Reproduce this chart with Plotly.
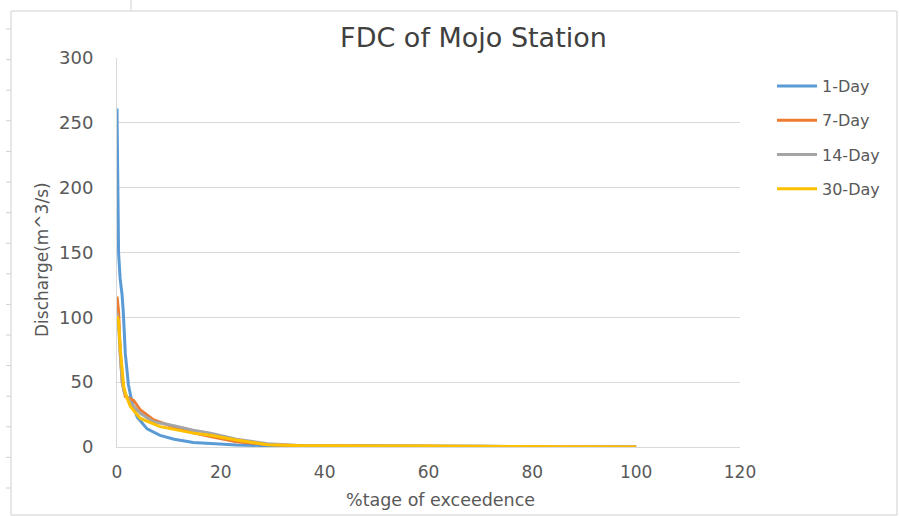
import plotly.graph_objects as go

# Data (% exceedance, discharge m^3/s)
x_1day = [0, 0.15, 0.3, 0.6, 0.96, 1.2, 1.6, 2.2, 2.9, 3.9, 5.8, 8.3, 11, 14.7, 18, 23, 30, 40, 50, 60, 70, 80, 90, 100]
y_1day = [261, 200, 150, 130, 118, 105, 72, 48, 34, 23, 14, 9, 6, 3.5, 2.5, 1.5, 1.0, 0.7, 0.6, 0.6, 0.5, 0.5, 0.3, 0]

x_7day = [0, 0.3, 0.6, 1.0, 1.6, 2.2, 3.2, 4.5, 7, 11.6, 14.7, 18, 23, 29, 35, 40, 50, 60, 70, 80, 90, 100]
y_7day = [116, 105, 75, 50, 39, 38, 36, 28.5, 21, 14.4, 11, 8, 4, 2, 1.0, 0.8, 0.7, 0.7, 0.6, 0.5, 0.3, 0]

x_14day = [0, 0.3, 0.6, 1.0, 1.4, 2.0, 2.8, 4.5, 7, 10.3, 14.7, 18, 23, 29, 35, 40, 50, 60, 70, 80, 90, 100]
y_14day = [103, 95, 72, 50, 42, 38, 33, 26, 19.5, 17, 13, 10.7, 6, 2.5, 1.2, 0.9, 0.8, 0.7, 0.6, 0.5, 0.3, 0]

x_30day = [0, 0.3, 0.64, 1.0, 1.3, 1.8, 2.6, 4.5, 8.3, 14.7, 18, 23, 29, 35, 40, 50, 60, 70, 80, 90, 100]
y_30day = [101, 97, 75, 58, 46.5, 39, 31, 22, 15.7, 10.7, 9, 5.4, 1.8, 1.1, 0.9, 0.8, 0.7, 0.6, 0.5, 0.3, 0]

series = [
    ("1-Day", x_1day, y_1day, "#5b9bd5"),
    ("7-Day", x_7day, y_7day, "#ed7d31"),
    ("14-Day", x_14day, y_14day, "#a5a5a5"),
    ("30-Day", x_30day, y_30day, "#ffc000"),
]

FONT = "DejaVu Sans"
W, H = 899, 516
ML, MR, MT, MB = 117, 159, 58, 69
PW, PH = W - ML - MR, H - MT - MB


def px_to_paper_x(px):
    return (px - ML) / PW


def px_to_paper_y(py):
    return (H - MB - py) / PH


fig = go.Figure()
for i, (name, xs, ys, col) in enumerate(series):
    fig.add_trace(go.Scatter(x=xs, y=ys, mode="lines", name=name,
                             line=dict(color=col, width=3),
                             legendgroup=str(i)))

shapes = [dict(type="rect", xref="paper", yref="paper",
               x0=px_to_paper_x(11), x1=px_to_paper_x(897),
               y0=px_to_paper_y(515), y1=px_to_paper_y(11),
               line=dict(color="#d0d0d0", width=1), fillcolor="rgba(0,0,0,0)",
               layer="below")]
# faint spreadsheet row marks on the left edge
row_start, row_step = 29, 30.6
for k in range(16):
    py = row_start + k * row_step
    shapes.append(dict(type="line", xref="paper", yref="paper",
                       x0=px_to_paper_x(6), x1=px_to_paper_x(11),
                       y0=px_to_paper_y(py), y1=px_to_paper_y(py),
                       line=dict(color="#d0d0d0", width=1)))
shapes.append(dict(type="line", xref="paper", yref="paper",
                   x0=px_to_paper_x(131), x1=px_to_paper_x(131),
                   y0=px_to_paper_y(0), y1=px_to_paper_y(10),
                   line=dict(color="#d0d0d0", width=1)))

fig.update_layout(
    width=W, height=H,
    paper_bgcolor="white", plot_bgcolor="white",
    margin=dict(l=ML, r=MR, t=MT, b=MB),
    font=dict(family=FONT, color="#595959", size=17),
    title=dict(text="FDC of Mojo Station", x=473.5 / W, xanchor="center",
               y=1 - 38 / H, yanchor="middle",
               font=dict(family=FONT, size=27, color="#404040")),
    showlegend=True,
    legend=dict(x=px_to_paper_x(772), xanchor="left",
                y=px_to_paper_y(69), yanchor="top",
                font=dict(family=FONT, size=16, color="#595959"),
                tracegroupgap=10.5, itemwidth=40,
                bgcolor="rgba(0,0,0,0)"),
    xaxis=dict(range=[0, 120], tickvals=[0, 20, 40, 60, 80, 100, 120],
               showgrid=False, zeroline=False, showline=True,
               linecolor="#d9d9d9", linewidth=1, ticks="",
               ticklabelstandoff=10,
               tickfont=dict(family=FONT, size=17, color="#595959")),
    yaxis=dict(range=[0, 300], tickvals=[0, 50, 100, 150, 200, 250, 300],
               showgrid=True, gridcolor="#d9d9d9", gridwidth=1,
               zeroline=False, showline=True, linecolor="#d9d9d9",
               linewidth=1, ticks="", ticklabelstandoff=19,
               tickfont=dict(family=FONT, size=18, color="#595959")),
    annotations=[
        dict(text="%tage of exceedence", xref="paper", yref="paper",
             x=px_to_paper_x(440.5), y=px_to_paper_y(500),
             xanchor="center", yanchor="middle", showarrow=False,
             font=dict(family=FONT, size=17.5, color="#595959")),
        dict(text="Discharge(m^3/s)", xref="paper", yref="paper",
             x=px_to_paper_x(42), y=px_to_paper_y(260),
             xanchor="center", yanchor="middle", showarrow=False,
             textangle=-90,
             font=dict(family=FONT, size=17, color="#595959")),
    ],
    shapes=shapes,
)

fig.write_html("out.html")
